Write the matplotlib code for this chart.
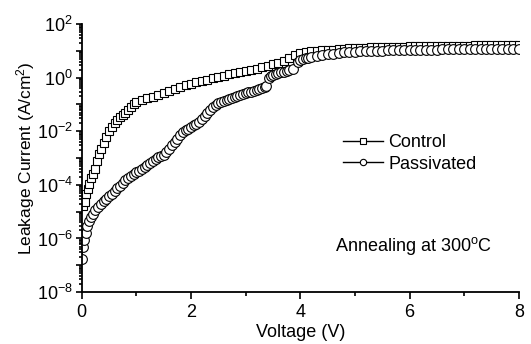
import numpy as np
import matplotlib
matplotlib.use("Agg")
import matplotlib.pyplot as plt
from matplotlib.ticker import LogLocator, FixedLocator, NullFormatter, FuncFormatter

plt.rcParams['font.family'] = ['Liberation Sans', 'DejaVu Sans']
plt.rcParams['mathtext.fontset'] = 'custom'
plt.rcParams['mathtext.rm'] = 'Liberation Sans'
plt.rcParams['mathtext.it'] = 'Liberation Sans:italic'

# control sample: voltage (V) and log10 of leakage current (A/cm^2)
v_control = [0.02, 0.05, 0.08, 0.11, 0.14, 0.17, 0.2, 0.24, 0.28, 0.32, 0.36, 0.4,
             0.45, 0.5, 0.55, 0.6, 0.65, 0.7, 0.75, 0.8, 0.85, 0.9, 0.95, 1.0,
             1.1, 1.2, 1.3, 1.4, 1.5, 1.6, 1.7, 1.8, 1.9, 2.0, 2.1, 2.2, 2.3, 2.4,
             2.5, 2.6, 2.7, 2.8, 2.9, 3.0, 3.1, 3.2, 3.3, 3.4, 3.5, 3.6, 3.7, 3.8,
             3.9, 4.0, 4.1, 4.2, 4.3, 4.4, 4.5, 4.6, 4.7, 4.8, 4.9, 5.0, 5.1, 5.2,
             5.3, 5.4, 5.5, 5.6, 5.7, 5.8, 5.9, 6.0, 6.1, 6.2, 6.3, 6.4, 6.5, 6.6,
             6.7, 6.8, 6.9, 7.0, 7.1, 7.2, 7.3, 7.4, 7.5, 7.6, 7.7, 7.8, 7.9, 8.0]
log_control = [-4.8, -4.65, -4.35, -4.15, -3.95, -3.75, -3.6, -3.4, -3.1, -2.85, -2.65, -2.45,
               -2.2, -2.0, -1.85, -1.7, -1.58, -1.48, -1.38, -1.3, -1.2, -1.1, -1.0, -0.9,
               -0.83, -0.77, -0.71, -0.64, -0.56, -0.49, -0.42, -0.35, -0.29, -0.23, -0.17, -0.12, -0.07, -0.02,
               0.03, 0.08, 0.13, 0.17, 0.21, 0.25, 0.29, 0.34, 0.39, 0.44, 0.5, 0.56, 0.64, 0.74,
               0.86, 0.93, 0.96, 0.99, 1.01, 1.02, 1.04, 1.05, 1.06, 1.08, 1.09, 1.1, 1.11, 1.12,
               1.13, 1.14, 1.14, 1.15, 1.15, 1.16, 1.16, 1.17, 1.17, 1.18, 1.18, 1.18, 1.19, 1.19,
               1.19, 1.2, 1.2, 1.2, 1.2, 1.21, 1.21, 1.21, 1.21, 1.21, 1.22, 1.22, 1.22, 1.22]

# passivated sample
v_pass = [0.0, 0.02, 0.04, 0.07, 0.1, 0.13, 0.16, 0.2, 0.25, 0.3, 0.35, 0.4, 0.45, 0.5,
          0.55, 0.6, 0.65, 0.7, 0.75, 0.8, 0.85, 0.9, 0.95, 1.0, 1.05, 1.1, 1.15, 1.2,
          1.25, 1.3, 1.35, 1.4, 1.45, 1.5, 1.55, 1.6, 1.65, 1.7, 1.75, 1.8, 1.85, 1.9,
          1.95, 2.0, 2.05, 2.1, 2.15, 2.2, 2.25, 2.3, 2.35, 2.4, 2.45, 2.5, 2.55, 2.6,
          2.65, 2.7, 2.75, 2.8, 2.85, 2.9, 2.95, 3.0, 3.05, 3.1, 3.15, 3.2, 3.25, 3.3,
          3.35, 3.38, 3.42, 3.46, 3.5, 3.55, 3.6, 3.65, 3.7, 3.75, 3.8, 3.87, 3.95, 4.0,
          4.05, 4.1, 4.15, 4.2, 4.3, 4.4, 4.5, 4.6, 4.7, 4.8, 4.9, 5.0, 5.1, 5.2,
          5.3, 5.4, 5.5, 5.6, 5.7, 5.8, 5.9, 6.0, 6.1, 6.2, 6.3, 6.4, 6.5, 6.6,
          6.7, 6.8, 6.9, 7.0, 7.1, 7.2, 7.3, 7.4, 7.5, 7.6, 7.7, 7.8, 7.9, 8.0]
log_pass = [-6.75, -6.3, -6.05, -5.8, -5.55, -5.35, -5.2, -5.07, -4.95, -4.83, -4.72, -4.62, -4.52, -4.43,
            -4.33, -4.23, -4.13, -4.03, -3.93, -3.83, -3.74, -3.67, -3.6, -3.53, -3.47, -3.41, -3.33, -3.25,
            -3.17, -3.1, -3.03, -2.97, -2.92, -2.88, -2.78, -2.65, -2.52, -2.4, -2.27, -2.15, -2.03, -1.95,
            -1.9, -1.85, -1.78, -1.72, -1.64, -1.55, -1.42, -1.3, -1.2, -1.1, -1.02, -0.95, -0.9, -0.86,
            -0.82, -0.78, -0.74, -0.71, -0.68, -0.65, -0.61, -0.58, -0.55, -0.52, -0.49, -0.46, -0.43, -0.4,
            -0.36, -0.32, 0.0, 0.06, 0.1, 0.14, 0.17, 0.2, 0.23, 0.26, 0.28, 0.31, 0.6, 0.66,
            0.7, 0.73, 0.75, 0.77, 0.8, 0.84, 0.88, 0.9, 0.92, 0.94, 0.95, 0.97, 0.98, 0.99,
            1.0, 1.0, 1.01, 1.02, 1.02, 1.03, 1.03, 1.04, 1.04, 1.05, 1.05, 1.05, 1.05, 1.06,
            1.06, 1.06, 1.06, 1.06, 1.07, 1.07, 1.07, 1.07, 1.07, 1.07, 1.08, 1.08, 1.08, 1.08]

j_control = np.power(10.0, log_control)
j_pass = np.power(10.0, log_pass)

fig = plt.figure(figsize=(5.31, 3.44), dpi=100)
ax = fig.add_axes([0.154, 0.151, 0.823, 0.779])

ax.plot(v_control, j_control, color='black', lw=1, marker='s', ms=6,
        mfc='white', mec='black', mew=0.8, label='Control')
ax.plot(v_pass, j_pass, color='black', lw=1, marker='o', ms=7,
        mfc='white', mec='black', mew=0.8, label='Passivated')

ax.set_yscale('log')
ax.set_xlim(0, 8)
ax.set_ylim(1e-8, 1e2)

for s in ['top', 'right']:
    ax.spines[s].set_visible(False)
for s in ['left', 'bottom']:
    ax.spines[s].set_linewidth(1.3)

ax.xaxis.set_major_locator(FixedLocator([0, 2, 4, 6, 8]))
ax.xaxis.set_minor_locator(FixedLocator([1, 3, 5, 7]))
ax.yaxis.set_major_locator(FixedLocator([10.0 ** k for k in range(-8, 3)]))
ax.yaxis.set_minor_locator(LogLocator(base=10, subs=np.arange(2, 10), numticks=20))
ax.yaxis.set_minor_formatter(NullFormatter())


def ylab(val, pos):
    k = int(round(np.log10(val)))
    if k % 2:
        return ''
    return r'$\mathregular{10^{%d}}$' % k


ax.yaxis.set_major_formatter(FuncFormatter(ylab))
ax.tick_params(which='both', direction='out', width=1.2, labelsize=13)
ax.tick_params(axis='x', which='major', length=5)
ax.tick_params(axis='x', which='minor', length=3)
ax.tick_params(axis='y', which='major', length=4, pad=2.5)
ax.tick_params(axis='y', which='minor', length=2.5)

ax.set_xlabel('Voltage (V)', fontsize=13, labelpad=2)
ax.set_ylabel(r'Leakage Current (A/cm$^\mathregular{2}$)', fontsize=12.5, labelpad=0)

ax.legend(loc='upper left', bbox_to_anchor=(0.581, 0.616), frameon=False,
          fontsize=13, handlelength=2.2, handletextpad=0.3, labelspacing=0.25,
          borderaxespad=0, markerscale=0.65)
ax.text(0.579, 0.172, r'Annealing at 300$^\mathregular{o}$C', transform=ax.transAxes,
        fontsize=13, ha='left', va='center')

fig.savefig('out.png', dpi=100)
